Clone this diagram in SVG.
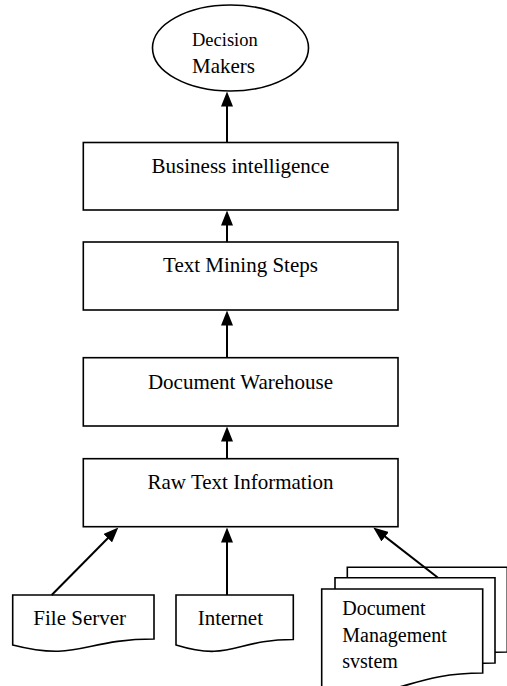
<svg xmlns="http://www.w3.org/2000/svg" width="507" height="686" viewBox="0 0 507 686">
  <style>
    .shape { fill: #ffffff; stroke: #000000; stroke-width: 1.6; }
    .label { font-family: "Liberation Serif", "Times New Roman", serif; font-size: 21px; fill: #000000; }
    .mid { text-anchor: middle; }
    .conn { stroke: #000000; stroke-width: 2; fill: none; marker-end: url(#head); }
  </style>
  <defs>
    <marker id="head" markerUnits="userSpaceOnUse" markerWidth="15" markerHeight="12" refX="7" refY="6" orient="auto">
      <path d="M0,0 L15,6 L0,12 Z" fill="#000000"/>
    </marker>
  </defs>
  <rect width="507" height="686" fill="#ffffff"/>

  <g id="decision-makers">
    <ellipse class="shape" cx="230.5" cy="48" rx="78" ry="43"/>
    <text class="label" x="192" y="46" style="font-size:18.5px">Decision</text>
    <text class="label" x="192" y="72.5">Makers</text>
  </g>

  <g id="business-intelligence">
    <rect class="shape" x="83.3" y="142.5" width="314.7" height="67.5"/>
    <text class="label mid" x="240.5" y="173.3">Business intelligence</text>
  </g>

  <g id="text-mining-steps">
    <rect class="shape" x="83.3" y="242" width="314.7" height="68"/>
    <text class="label mid" x="240.5" y="272">Text Mining Steps</text>
  </g>

  <g id="document-warehouse">
    <rect class="shape" x="83.3" y="357.7" width="314.7" height="68.3"/>
    <text class="label mid" x="240.5" y="388.5">Document Warehouse</text>
  </g>

  <g id="raw-text-information">
    <rect class="shape" x="83.3" y="458.7" width="314.7" height="68"/>
    <text class="label mid" x="240.5" y="488.5">Raw Text Information</text>
  </g>

  <g id="file-server">
    <path class="shape" d="M12.7,595 H154 V639 C83.3,639 79.1,662 12.7,645 Z"/>
    <text class="label" x="33.3" y="625">File Server</text>
  </g>

  <g id="internet">
    <path class="shape" d="M176,595 H293.3 V639.5 C234.7,639.5 231.1,662 176,645 Z"/>
    <text class="label" x="197.7" y="625">Internet</text>
  </g>

  <g id="document-management-system">
    <!-- stacked pages, back to front -->
    <path class="shape" d="M347.3,567.3 H507.3 V652 C427,652 423,684 347.3,666 Z"/>
    <path class="shape" d="M335,577.7 H495 V663 C415,663 411,695 335,677 Z"/>
    <path class="shape" d="M321.7,589 H482.7 V673 C402,673 398,705 321.7,687 Z"/>
    <text class="label" x="342.3" y="615" style="font-size:20px">Document</text>
    <text class="label" x="342.3" y="641.7" style="font-size:20px">Management</text>
    <text class="label" x="342.3" y="668.3" style="font-size:20px">svstem</text>
  </g>

  <g id="connectors">
    <line class="conn" x1="227" y1="142.5" x2="227" y2="99.5"/>
    <line class="conn" x1="227" y1="242" x2="227" y2="218.5"/>
    <line class="conn" x1="227" y1="357.7" x2="227" y2="318.5"/>
    <line class="conn" x1="227" y1="458.7" x2="227" y2="434.5"/>
    <line class="conn" x1="51.7" y1="595" x2="112.7" y2="533.2"/>
    <line class="conn" x1="227" y1="595" x2="227" y2="535.5"/>
    <line class="conn" x1="437.7" y1="577.5" x2="379.6" y2="532.4"/>
  </g>
</svg>
